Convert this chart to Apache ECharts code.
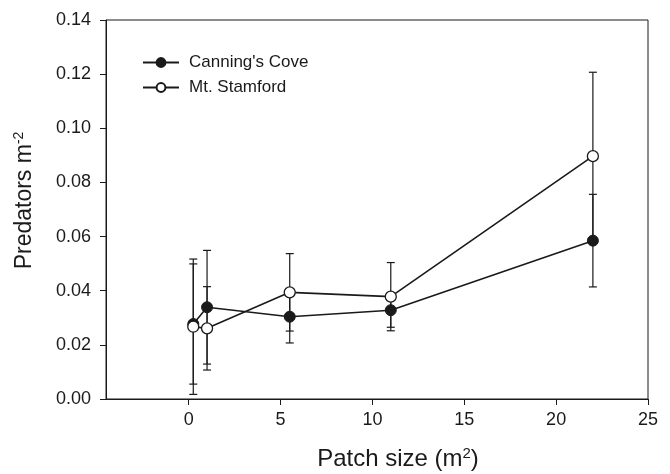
<!DOCTYPE html>
<html>
<head>
<meta charset="utf-8">
<script src="https://cdn.jsdelivr.net/npm/echarts@6/dist/echarts.min.js"></script>
<style>
html, body { margin: 0; padding: 0; background: #fff; }
#chart { width: 670px; height: 474px; }
</style>
</head>
<body>
<div id="chart"></div>
<script>
// patch size (m2)
var patchSize = [0.25, 1, 5.5, 11, 22];
// Canning's Cove (filled)
var coveMean = [0.0277, 0.0339, 0.0304, 0.0328, 0.0585];
var coveErr = [0.0222, 0.021, 0.0097, 0.0063, 0.0171];
// Mt. Stamford (open)
var stamMean = [0.0267, 0.0261, 0.0394, 0.0378, 0.0897];
var stamErr = [0.025, 0.0154, 0.0143, 0.0126, 0.031];
var xTicks = [0, 5, 10, 15, 20, 25];

var ink = '#1a1a1a';
var font = 'Liberation Sans, Arial, sans-serif';

function pairs(xs, ys) {
    var out = [];
    for (var i = 0; i < xs.length; i++) out.push([xs[i], ys[i]]);
    return out;
}
function errRows(xs, ys, es) {
    var out = [];
    for (var i = 0; i < xs.length; i++) out.push([xs[i], ys[i] - es[i], ys[i] + es[i]]);
    return out;
}

function errorBar(params, api) {
    var lo = api.coord([api.value(0), api.value(1)]);
    var hi = api.coord([api.value(0), api.value(2)]);
    var w = 4;
    var st = { stroke: ink, lineWidth: 1.2 };
    return {
        type: 'group',
        children: [
            { type: 'line', shape: { x1: lo[0], y1: lo[1], x2: hi[0], y2: hi[1] }, style: st },
            { type: 'line', shape: { x1: lo[0] - w, y1: lo[1], x2: lo[0] + w, y2: lo[1] }, style: st },
            { type: 'line', shape: { x1: hi[0] - w, y1: hi[1], x2: hi[0] + w, y2: hi[1] }, style: st }
        ]
    };
}

var chart = echarts.init(document.getElementById('chart'), null, { renderer: 'canvas' });
var option = {
    animation: false,
    backgroundColor: '#fff',
    textStyle: { fontFamily: font, color: ink },
    grid: {
        left: 106, right: 22, top: 20, bottom: 75,
        outerBoundsMode: 'none', containLabel: false,
        show: true, borderColor: ink, borderWidth: 1, backgroundColor: 'transparent'
    },
    legend: {
        orient: 'vertical',
        left: 137, top: 49,
        itemWidth: 36, itemHeight: 11, itemGap: 8,
        textStyle: { fontFamily: font, fontSize: 17, color: ink, padding: [0, 0, 0, 5] },
        data: ["Canning's Cove", 'Mt. Stamford']
    },
    xAxis: {
        type: 'value',
        min: -4.5, max: 25,
        splitLine: { show: false },
        axisLine: { onZero: false, lineStyle: { color: ink, width: 1 } },
        axisLabel: {
            fontFamily: font, fontSize: 18, color: ink, margin: 12,
            customValues: xTicks
        },
        axisTick: { show: true, length: 6, lineStyle: { color: ink }, customValues: xTicks },
        name: '{t|Patch size (m}{s|2}{t|)}',
        nameLocation: 'middle',
        nameGap: 47,
        nameTextStyle: {
            padding: [0, 0, 0, 42],
            rich: {
                t: { fontFamily: font, fontSize: 24, color: ink, lineHeight: 27 },
                s: { fontFamily: font, fontSize: 15, color: ink, verticalAlign: 'top', lineHeight: 15 }
            }
        }
    },
    yAxis: {
        type: 'value',
        min: 0, max: 0.14, interval: 0.02,
        splitLine: { show: false },
        axisLine: { show: true, onZero: false, lineStyle: { color: ink, width: 1 } },
        axisTick: { show: true, length: 6, lineStyle: { color: ink } },
        axisLabel: {
            fontFamily: font, fontSize: 18, color: ink, margin: 15,
            formatter: function (v) { return v.toFixed(2); }
        },
        name: '{t|Predators m}{s|-2}',
        nameLocation: 'middle',
        nameGap: 68,
        nameTextStyle: {
            padding: [0, 0, 0, 18],
            rich: {
                t: { fontFamily: font, fontSize: 23, color: ink, lineHeight: 26 },
                s: { fontFamily: font, fontSize: 14, color: ink, verticalAlign: 'top', lineHeight: 14 }
            }
        }
    },
    series: [
        {
            name: 'coveErr', type: 'custom', z: 1,
            renderItem: errorBar, data: errRows(patchSize, coveMean, coveErr),
            encode: { x: 0, y: [1, 2] }, silent: true
        },
        {
            name: 'stamErr', type: 'custom', z: 1,
            renderItem: errorBar, data: errRows(patchSize, stamMean, stamErr),
            encode: { x: 0, y: [1, 2] }, silent: true
        },
        {
            name: "Canning's Cove", type: 'line', z: 3,
            data: pairs(patchSize, coveMean),
            symbol: 'circle', symbolSize: 11,
            lineStyle: { color: ink, width: 1.6 },
            itemStyle: { color: ink, borderColor: ink, borderWidth: 1 }
        },
        {
            name: 'Mt. Stamford', type: 'line', z: 4,
            data: pairs(patchSize, stamMean),
            symbol: 'circle', symbolSize: 11,
            lineStyle: { color: ink, width: 1.6 },
            itemStyle: { color: '#fff', borderColor: ink, borderWidth: 1.3 }
        }
    ]
};
chart.setOption(option);
</script>
</body>
</html>
